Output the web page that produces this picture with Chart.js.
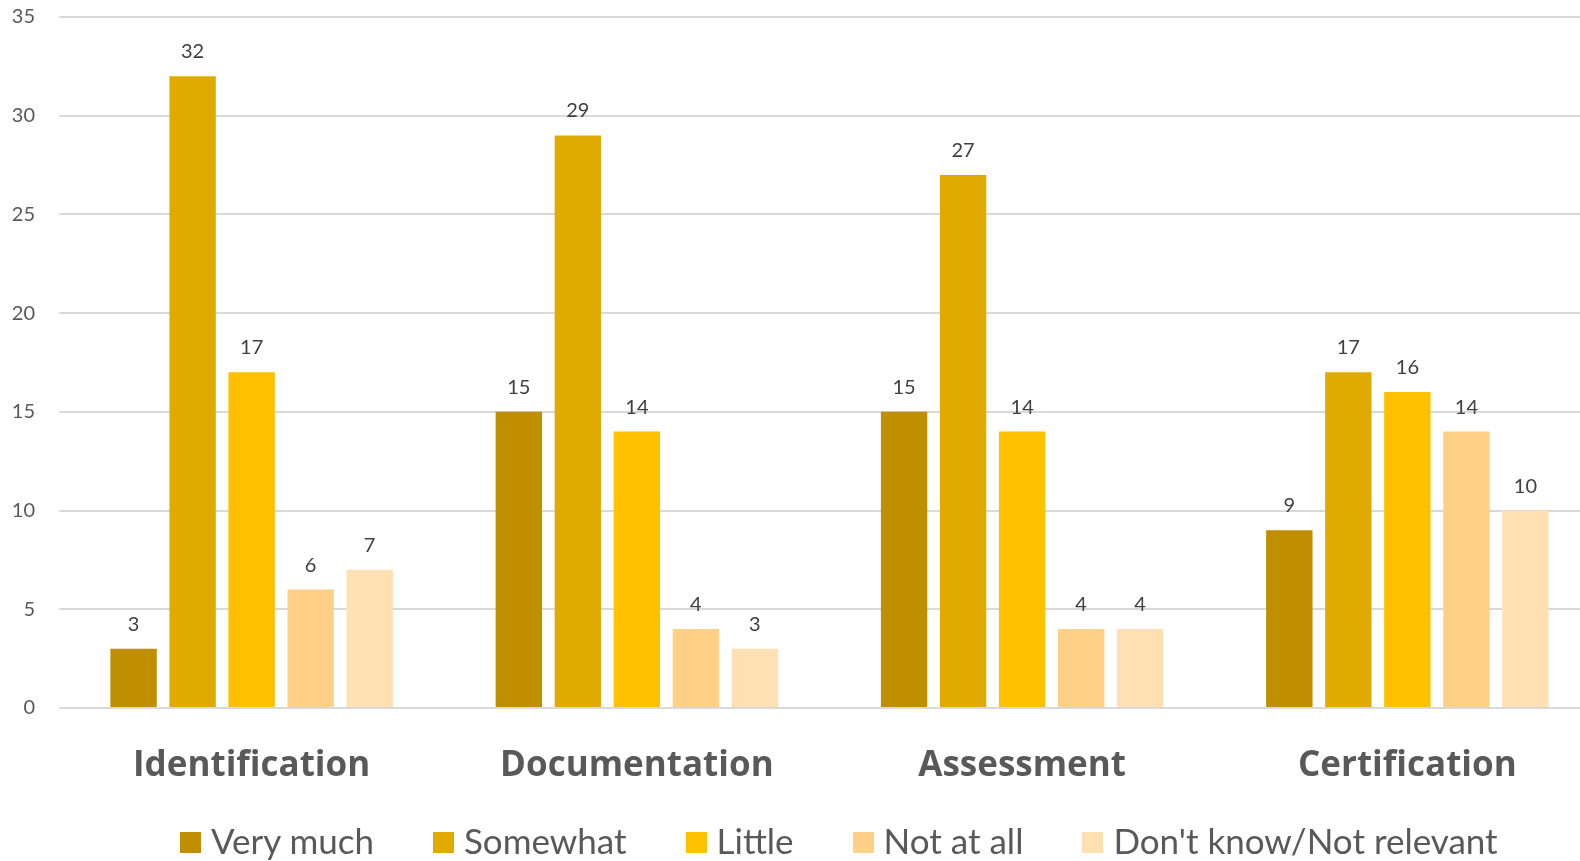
<!DOCTYPE html>
<html>
<head>
<meta charset="utf-8">
<script src="https://cdn.jsdelivr.net/npm/chart.js@4.4.0/dist/chart.umd.min.js"></script>
<style>
    html, body { margin: 0; padding: 0; background: #fff; overflow: hidden; }
    #wrap { position: relative; width: 1580px; height: 861px; overflow: hidden; }
    #chart { position: absolute; left: 0; top: 0; }
    #legend {
        position: absolute; left: 180px; top: 818px;
        display: flex; align-items: center;
        font-family: Lato, sans-serif; font-size: 35px; color: #595959;
        white-space: nowrap; line-height: 44px;
    }
    #legend .item { display: flex; align-items: center; margin-right: 59px; }
    #legend .box { width: 21px; height: 21px; margin-right: 10px; margin-top: 4px; }
</style>
</head>
<body>
<div id="wrap">
    <canvas id="chart" width="1600" height="861"></canvas>
    <div id="legend"></div>
</div>
<script>
// Survey answers per stage
const categories = ['Identification', 'Documentation', 'Assessment', 'Certification'];
const seriesNames = ['Very much', 'Somewhat', 'Little', 'Not at all', "Don't know/Not relevant"];
const veryMuch = [3, 15, 15, 9];
const somewhat = [32, 29, 27, 17];
const little = [17, 14, 14, 16];
const notAtAll = [6, 4, 4, 14];
const dontKnow = [7, 3, 4, 10];
const yTicks = [0, 5, 10, 15, 20, 25, 30, 35];

const seriesValues = [veryMuch, somewhat, little, notAtAll, dontKnow];
const colors = ['#BF8F00', '#E1AA00', '#FFC000', '#FFD086', '#FFE0B3'];

// value labels above each bar
const barValueLabels = {
    id: 'barValueLabels',
    afterDatasetsDraw(chart) {
        const ctx = chart.ctx;
        ctx.save();
        ctx.font = '20px Lato, sans-serif';
        ctx.fillStyle = '#404040';
        ctx.textAlign = 'center';
        ctx.textBaseline = 'alphabetic';
        chart.data.datasets.forEach((ds, i) => {
            chart.getDatasetMeta(i).data.forEach((bar, j) => {
                ctx.fillText(String(ds.data[j]), bar.x, bar.y - 18);
            });
        });
        ctx.restore();
    }
};

function buildLegend() {
    const legend = document.getElementById('legend');
    seriesNames.forEach((name, i) => {
        const item = document.createElement('div');
        item.className = 'item';
        const box = document.createElement('span');
        box.className = 'box';
        box.style.background = colors[i];
        const label = document.createElement('span');
        label.textContent = name;
        item.appendChild(box);
        item.appendChild(label);
        legend.appendChild(item);
    });
}

function renderChart() {
    const ctx = document.getElementById('chart').getContext('2d');
    new Chart(ctx, {
        type: 'bar',
        data: {
            labels: categories,
            datasets: seriesNames.map((name, i) => ({
                label: name,
                data: seriesValues[i],
                backgroundColor: colors[i],
                borderWidth: 0,
                categoryPercentage: 0.766,
                barPercentage: 0.786
            }))
        },
        options: {
            responsive: false,
            animation: false,
            devicePixelRatio: 1,
            layout: { padding: { top: 17, left: 12, right: 0, bottom: 0 } },
            plugins: {
                legend: { display: false },
                tooltip: { enabled: false }
            },
            scales: {
                x: {
                    grid: { display: false },
                    border: { display: false },
                    ticks: {
                        color: '#595959',
                        font: { family: 'Open Sans', size: 35, weight: 'bold' },
                        padding: 29,
                        maxRotation: 0
                    },
                    afterFit: (axis) => {
                        axis.height = 153;
                        axis.paddingLeft = 0;
                        axis.paddingRight = 0;
                    }
                },
                y: {
                    min: 0,
                    max: yTicks[yTicks.length - 1],
                    afterBuildTicks: (axis) => {
                        axis.ticks = yTicks.map(v => ({ value: v }));
                    },
                    grid: { color: '#D9D9D9', lineWidth: 2, drawTicks: false },
                    border: { display: false },
                    ticks: {
                        color: '#595959',
                        font: { family: 'Lato', size: 20 },
                        padding: 24
                    },
                    afterFit: (axis) => {
                        axis.width = 47;
                        axis.paddingTop = 0;
                        axis.paddingBottom = 0;
                    }
                }
            }
        },
        plugins: [barValueLabels]
    });
}

buildLegend();
if (document.fonts && document.fonts.load) {
    Promise.all([
        document.fonts.load('20px Lato'),
        document.fonts.load('bold 35px "Open Sans"'),
        document.fonts.load('35px Lato')
    ]).then(renderChart, renderChart);
} else {
    renderChart();
}
</script>
</body>
</html>
